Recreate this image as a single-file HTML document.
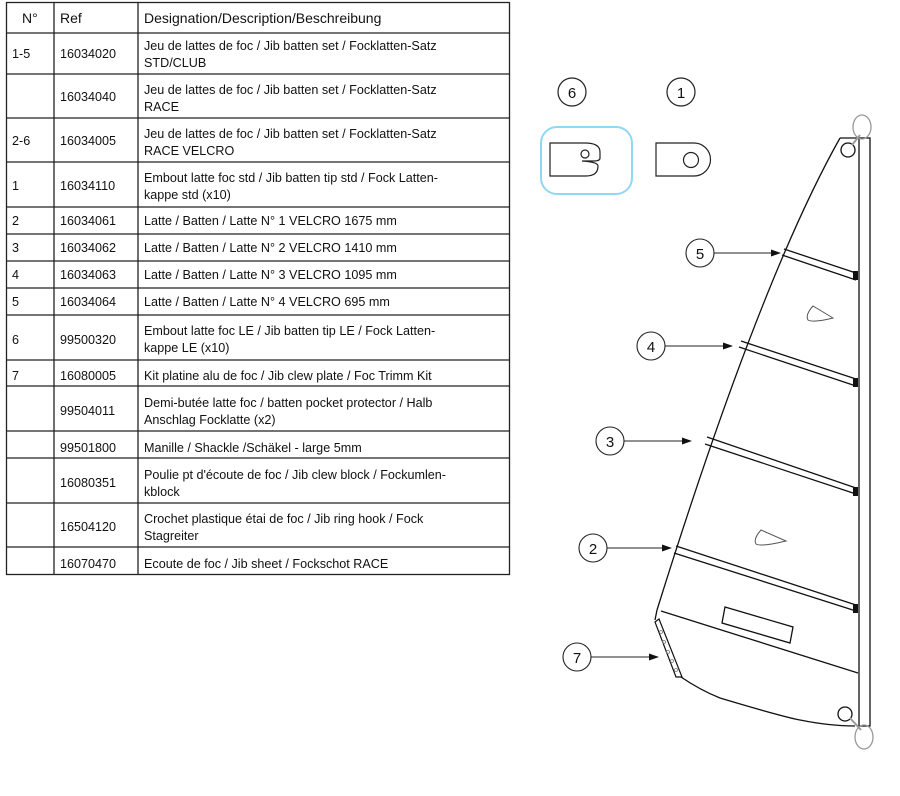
<!DOCTYPE html>
<html><head><meta charset="utf-8"><style>
html,body{margin:0;padding:0;background:#fff;}
svg{display:block;font-family:"Liberation Sans",sans-serif;}
.t{font-size:12.6px;fill:#111;}
.h{font-size:14px;fill:#111;}
.c{font-size:15px;fill:#111;text-anchor:middle;}
</style></head><body>
<svg width="900" height="796" viewBox="0 0 900 796" xmlns="http://www.w3.org/2000/svg">
<g stroke="#222" stroke-width="1.3" fill="none">
<rect x="6.5" y="2.5" width="503" height="572"/>
<line x1="54" y1="2" x2="54" y2="575"/><line x1="138" y1="2" x2="138" y2="575"/>
<line x1="6" y1="33" x2="510" y2="33"/><line x1="6" y1="74" x2="510" y2="74"/><line x1="6" y1="118" x2="510" y2="118"/>
<line x1="6" y1="162" x2="510" y2="162"/><line x1="6" y1="207" x2="510" y2="207"/><line x1="6" y1="234" x2="510" y2="234"/>
<line x1="6" y1="261" x2="510" y2="261"/><line x1="6" y1="288" x2="510" y2="288"/><line x1="6" y1="315" x2="510" y2="315"/>
<line x1="6" y1="360" x2="510" y2="360"/><line x1="6" y1="386" x2="510" y2="386"/><line x1="6" y1="431" x2="510" y2="431"/>
<line x1="6" y1="458" x2="510" y2="458"/><line x1="6" y1="503" x2="510" y2="503"/><line x1="6" y1="547" x2="510" y2="547"/>
</g>
<text class="h" x="22" y="23">N°</text><text class="h" x="60" y="23">Ref</text><text class="h" x="144" y="23">Designation/Description/Beschreibung</text>

<text class="t" x="12" y="58">1-5</text><text class="t" x="60" y="58">16034020</text>
<text class="t" x="144" y="50">Jeu de lattes de foc / Jib batten set / Focklatten-Satz</text><text class="t" x="144" y="67">STD/CLUB</text>

<text class="t" x="60" y="101">16034040</text>
<text class="t" x="144" y="94">Jeu de lattes de foc / Jib batten set / Focklatten-Satz</text><text class="t" x="144" y="111">RACE</text>

<text class="t" x="12" y="145">2-6</text><text class="t" x="60" y="145">16034005</text>
<text class="t" x="144" y="138">Jeu de lattes de foc / Jib batten set / Focklatten-Satz</text><text class="t" x="144" y="155">RACE VELCRO</text>

<text class="t" x="12" y="190">1</text><text class="t" x="60" y="190">16034110</text>
<text class="t" x="144" y="182">Embout latte foc std / Jib batten tip std / Fock Latten-</text><text class="t" x="144" y="199">kappe std (x10)</text>

<text class="t" x="12" y="225">2</text><text class="t" x="60" y="225">16034061</text><text class="t" x="144" y="225">Latte / Batten / Latte N° 1 VELCRO 1675 mm</text>
<text class="t" x="12" y="252">3</text><text class="t" x="60" y="252">16034062</text><text class="t" x="144" y="252">Latte / Batten / Latte N° 2 VELCRO 1410 mm</text>
<text class="t" x="12" y="279">4</text><text class="t" x="60" y="279">16034063</text><text class="t" x="144" y="279">Latte / Batten / Latte N° 3 VELCRO 1095 mm</text>
<text class="t" x="12" y="306">5</text><text class="t" x="60" y="306">16034064</text><text class="t" x="144" y="306">Latte / Batten / Latte N° 4 VELCRO 695 mm</text>

<text class="t" x="12" y="344">6</text><text class="t" x="60" y="344">99500320</text>
<text class="t" x="144" y="335">Embout latte foc LE / Jib batten tip LE / Fock Latten-</text><text class="t" x="144" y="352">kappe LE (x10)</text>

<text class="t" x="12" y="380">7</text><text class="t" x="60" y="380">16080005</text><text class="t" x="144" y="380">Kit platine alu de foc / Jib clew plate  / Foc Trimm Kit</text>

<text class="t" x="60" y="415">99504011</text>
<text class="t" x="144" y="407">Demi-butée latte foc / batten pocket protector / Halb</text><text class="t" x="144" y="424">Anschlag Focklatte (x2)</text>

<text class="t" x="60" y="452">99501800</text><text class="t" x="144" y="452">Manille / Shackle /Schäkel - large 5mm</text>

<text class="t" x="60" y="487">16080351</text>
<text class="t" x="144" y="479">Poulie pt d'écoute de foc / Jib clew block / Fockumlen-</text><text class="t" x="144" y="496">kblock</text>

<text class="t" x="60" y="531">16504120</text>
<text class="t" x="144" y="523">Crochet plastique étai de foc / Jib ring hook / Fock</text><text class="t" x="144" y="540">Stagreiter</text>

<text class="t" x="60" y="568">16070470</text><text class="t" x="144" y="568">Ecoute de foc / Jib sheet / Fockschot RACE</text>

<!-- parts -->
<rect x="541" y="127" width="91" height="67" rx="16" fill="none" stroke="#8fd8f5" stroke-width="2"/>
<g fill="none" stroke="#222" stroke-width="1.2">
<path d="M550 143 H585 Q600 143 600 152 V158 Q600 161 594 161 H582 Q598 162 598 166 Q598 176 586 176 H550 Z"/>
<circle cx="585" cy="154" r="4"/>
<path d="M656 143 H694 A16.5 16.5 0 0 1 694 176 H656 Z"/>
<circle cx="691" cy="160" r="7.5"/>
<circle cx="572" cy="92" r="14"/><circle cx="681" cy="92" r="14"/>
</g>
<text class="c" x="572" y="98">6</text><text class="c" x="681" y="98">1</text>

<!-- sail -->
<g fill="none" stroke="#111" stroke-width="1.3">
<rect x="859" y="138" width="11" height="588"/>
<path d="M840 138 H859"/>
<path d="M840 138 Q760 280 657 610"/>
<path d="M657 610 L655 620 M681 677 Q700 690 720 698 Q780 716 800 720 Q830 726 855 726"/>
<line x1="661" y1="611" x2="858" y2="673"/>
<circle cx="848" cy="150" r="7"/>
<circle cx="845" cy="714" r="7"/>
<ellipse cx="862" cy="127" rx="9" ry="12" stroke="#999"/>
<ellipse cx="864" cy="737" rx="9" ry="12" stroke="#999"/>
<line x1="852" y1="145" x2="860" y2="135" stroke="#999" stroke-width="2"/>
<line x1="850" y1="718" x2="861" y2="730" stroke="#999" stroke-width="2"/>
<path d="M784 249 L856 273 M782 255 L856 280"/>
<path d="M741 341 L856 379 M739 347 L856 386"/>
<path d="M707 437 L856 488 M705 444 L856 494"/>
<path d="M676 546 L856 605 M674 553 L856 611"/>
<path d="M725 607 L793 627 L790 643 L722 623 Z"/>
<path d="M655 622 L659 619 L682 677 L676 677 Z" stroke-width="1.2"/>
<path d="M813 306 Q805 315 808 320 Q813 323 833 318 Z" stroke="#555" stroke-width="1"/>
<path d="M761 530 Q753 539 756 544 Q761 547 786 541 Z" stroke="#555" stroke-width="1"/>
</g>
<g fill="#111">
<rect x="853" y="271" width="5" height="9"/><rect x="853" y="378" width="5" height="9"/>
<rect x="853" y="487" width="5" height="9"/><rect x="853" y="604" width="5" height="9"/>
</g>
<g fill="none" stroke="#777" stroke-width="0.8">
<circle cx="661" cy="632" r="1.5"/><circle cx="664" cy="642" r="1.5"/><circle cx="668" cy="652" r="1.5"/><circle cx="672" cy="661" r="1.5"/><circle cx="676" cy="670" r="1.5"/>
</g>

<!-- callouts -->
<g fill="none" stroke="#222" stroke-width="1.1">
<circle cx="700" cy="253" r="14"/><line x1="714" y1="253" x2="773" y2="253"/>
<circle cx="651" cy="346" r="14"/><line x1="665" y1="346" x2="725" y2="346"/>
<circle cx="610" cy="441" r="14"/><line x1="624" y1="441" x2="684" y2="441"/>
<circle cx="593" cy="548" r="14"/><line x1="607" y1="548" x2="664" y2="548"/>
<circle cx="577" cy="657" r="14"/><line x1="591" y1="657" x2="650" y2="657"/>
</g>
<g fill="#111">
<path d="M781 253 L771 249.5 L771 256.5 Z"/>
<path d="M733 346 L723 342.5 L723 349.5 Z"/>
<path d="M692 441 L682 437.5 L682 444.5 Z"/>
<path d="M672 548 L662 544.5 L662 551.5 Z"/>
<path d="M659 657 L649 653.5 L649 660.5 Z"/>
</g>
<text class="c" x="700" y="259">5</text><text class="c" x="651" y="352">4</text><text class="c" x="610" y="447">3</text>
<text class="c" x="593" y="554">2</text><text class="c" x="577" y="663">7</text>
</svg>
</body></html>
